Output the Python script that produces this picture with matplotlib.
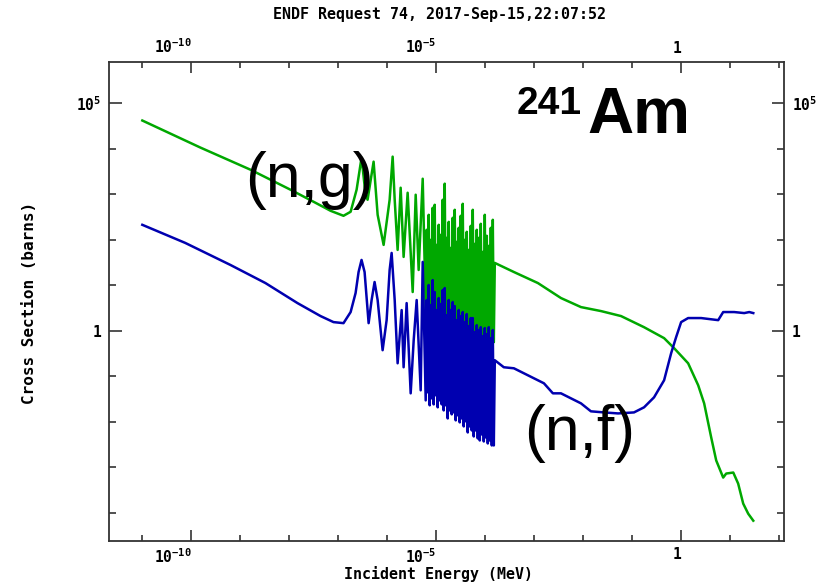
import matplotlib
matplotlib.use("Agg")
import numpy as np
import matplotlib.pyplot as plt

# (n,g) capture, below the resolved resonances (MeV, barns)
e_ng_low = [1.0e-11, 1.53e-10, 1.61e-9, 1.06e-8, 3.43e-8, 6.96e-8, 1.28e-7, 1.79e-7,
            2.37e-7, 2.99e-7, 3.61e-7, 3.97e-7, 5.27e-7, 6.37e-7, 8.44e-7, 1.12e-6,
            1.29e-6, 1.42e-6, 1.63e-6, 1.88e-6, 2.16e-6, 2.61e-6, 3.31e-6, 3.81e-6,
            4.38e-6, 5.30e-6]
xs_ng_low = [4.12e4, 1.05e4, 3430, 1245, 643, 429, 333, 408,
             1245, 6310, 966, 749, 5140, 350, 76.4, 749,
             6630, 749, 59.3, 1377, 41.6, 1068, 7.05, 966,
             21.5, 2170]

# (n,f) fission, same range
e_nf_low = [1.0e-11, 7.5e-11, 6.3e-10, 3.26e-9, 1.47e-8, 4.35e-8, 8.0e-8, 1.28e-7,
            1.79e-7, 2.26e-7, 2.60e-7, 2.99e-7, 3.45e-7, 4.17e-7, 4.80e-7, 5.52e-7,
            6.37e-7, 8.05e-7, 9.72e-7, 1.12e-6, 1.23e-6, 1.42e-6, 1.63e-6, 1.97e-6,
            2.16e-6, 2.49e-6, 3.01e-6, 3.47e-6, 3.99e-6, 4.82e-6, 5.30e-6]
xs_nf_low = [211, 84.6, 27.7, 11.1, 4.03, 2.09, 1.54, 1.46,
             2.56, 6.70, 19.4, 35.7, 19.4, 1.46, 4.70, 11.7,
             4.70, 0.372, 1.70, 21.5, 50.9, 4.70, 0.192, 2.83,
             0.157, 4.03, 0.0420, 0.618, 4.70, 0.0489, 32.3]

# dense resonance forest up to 150 eV, shared energy grid
e_res = [6.100e-6, 6.394e-6, 6.702e-6, 7.025e-6, 7.364e-6, 7.719e-6, 8.091e-6, 8.481e-6,
         8.890e-6, 9.318e-6, 9.767e-6, 1.0238e-5, 1.0732e-5, 1.1249e-5, 1.1791e-5, 1.2360e-5,
         1.2956e-5, 1.3580e-5, 1.4235e-5, 1.4921e-5, 1.5640e-5, 1.6394e-5, 1.7184e-5, 1.8013e-5,
         1.8881e-5, 1.9791e-5, 2.0745e-5, 2.1745e-5, 2.2793e-5, 2.3892e-5, 2.5044e-5, 2.6251e-5,
         2.7516e-5, 2.8843e-5, 3.0233e-5, 3.1690e-5, 3.3218e-5, 3.4819e-5, 3.6497e-5, 3.8257e-5,
         4.0101e-5, 4.2034e-5, 4.4060e-5, 4.6184e-5, 4.8410e-5, 5.0744e-5, 5.3190e-5, 5.5754e-5,
         5.8441e-5, 6.1258e-5, 6.4211e-5, 6.7306e-5, 7.0550e-5, 7.3951e-5, 7.7516e-5, 8.1252e-5,
         8.5169e-5, 8.9274e-5, 9.3577e-5, 9.8088e-5, 1.0282e-4, 1.0777e-4, 1.1297e-4, 1.1841e-4,
         1.2412e-4, 1.3010e-4, 1.3637e-4, 1.4295e-4, 1.4984e-4]
xs_ng_res = [2.83, 164, 3.84, 350, 2.56, 98.5, 3.47, 499, 2.31, 581, 2.98, 76.4,
             2.19, 211, 2.69, 127, 2.09, 749, 2.56, 1690, 1.89, 109, 2.31, 245,
             1.70, 65.6, 1.98, 301, 1.54, 451, 1.79, 89.0, 1.26, 181, 1.46, 333,
             1.14, 611, 1.32, 98.5, 0.975, 148, 1.14, 59.3, 0.84, 200, 0.975, 451,
             0.757, 80.4, 0.88, 164, 0.684, 109, 0.618, 222, 0.757, 53.6, 0.587, 350,
             0.650, 121, 0.558, 72.6, 0.618, 181, 0.558, 272, 0.558]
xs_nf_res = [0.0294, 4.70, 0.0442, 10.05, 0.0229, 3.65, 0.0326, 12.9, 0.0240, 7.05,
             0.0380, 2.83, 0.0207, 5.20, 0.0294, 3.84, 0.0240, 7.80, 0.0177, 8.63,
             0.0229, 2.19, 0.0118, 4.70, 0.0177, 2.83, 0.0145, 4.25, 0.0160, 3.47,
             0.0107, 1.70, 0.0138, 2.83, 0.00966, 2.09, 0.0118, 2.56, 0.00788, 1.54,
             0.0102, 2.31, 0.00581, 1.26, 0.00788, 1.89, 0.00643, 1.89, 0.00474, 0.927,
             0.00643, 1.32, 0.00429, 1.03, 0.00387, 1.19, 0.00525, 0.757, 0.00368, 1.14,
             0.00451, 0.84, 0.00333, 1.19, 0.00387, 0.684, 0.00301, 1.03, 0.00301]

# smooth part above the resonances
e_ng_high = [1.57e-4, 3.85e-4, 1.19e-3, 3.52e-3, 9.02e-3, 2.31e-2, 5.93e-2, 0.175,
             0.449, 0.719, 1.39, 2.23, 2.95, 4.11, 5.20, 7.22,
             8.32, 11.6, 14.6, 18.5, 23.4, 29.7]
xs_ng_high = [30.7, 19.4, 11.1, 5.20, 3.29, 2.69, 2.09, 1.19,
              0.684, 0.412, 0.192, 0.0631, 0.0253, 0.00451, 0.00141, 0.000593,
              0.000727, 0.000765, 0.000437, 0.000159, 9.55e-5, 6.7e-5]
e_nf_high = [1.57e-4, 2.40e-4, 3.85e-4, 6.15e-4, 9.86e-4, 1.58e-3, 2.41e-3, 3.52e-3,
             5.63e-3, 9.02e-3, 1.44e-2, 2.66e-2, 5.15e-2, 0.109, 0.175, 0.280,
             0.449, 0.625, 0.790, 1.0, 1.39, 2.56, 5.71, 7.22,
             12.1, 19.4, 24.6, 29.7]
xs_nf_high = [0.224, 0.157, 0.149, 0.116, 0.0899, 0.0698, 0.0420, 0.0420,
              0.0326, 0.0253, 0.0169, 0.0160, 0.0152, 0.0160, 0.0207, 0.0343,
              0.0813, 0.319, 0.72, 1.54, 1.89, 1.89, 1.70, 2.56,
              2.56, 2.43, 2.56, 2.43]

x_major = [1e-10, 1e-5, 1]
x_major_labels = [r"$10^{-10}$", r"$10^{-5}$", "1"]
y_major = [1e5, 1]
y_major_labels = [r"$10^{5}$", "1"]

plt.rcParams["mathtext.fontset"] = "custom"
plt.rcParams["mathtext.rm"] = "DejaVu Sans Mono:bold"
plt.rcParams["mathtext.it"] = "DejaVu Sans Mono:bold"
plt.rcParams["mathtext.bf"] = "DejaVu Sans Mono:bold"
mono = {"family": "DejaVu Sans Mono", "weight": "bold"}

fig = plt.figure(figsize=(8.36, 5.84), dpi=100)
ax = fig.add_axes([109 / 836, 1 - 541 / 584, 675 / 836, 479 / 584])

e_ng = e_ng_low + e_res + e_ng_high
xs_ng = xs_ng_low + xs_ng_res + xs_ng_high
e_nf = e_nf_low + e_res + e_nf_high
xs_nf = xs_nf_low + xs_nf_res + xs_nf_high

ax.plot(e_ng, xs_ng, color="#00a800", lw=1.8)
ax.plot(e_nf, xs_nf, color="#0000b0", lw=1.8)

ax.set_xscale("log")
ax.set_yscale("log")
ax.set_xlim(10 ** -11.68, 10 ** 2.1)
ax.set_ylim(10 ** -4.62, 10 ** 5.9)

ax.set_xticks(x_major, x_major_labels)
ax.set_xticks([10.0 ** k for k in range(-11, 3) if k not in (-10, -5, 0)], minor=True)
ax.set_yticks(y_major, y_major_labels)
ax.set_yticks([10.0 ** k for k in range(-4, 6) if k not in (0, 5)], minor=True)
ax.xaxis.set_minor_formatter(matplotlib.ticker.NullFormatter())
ax.yaxis.set_minor_formatter(matplotlib.ticker.NullFormatter())

ax.tick_params(which="both", direction="in", top=True, right=True,
               labeltop=True, labelright=True, color="#333333", width=1.2,
               labelsize=10.5)
ax.tick_params(axis="x", which="major", length=8, pad=4.5)
ax.tick_params(axis="x", which="minor", length=4.5)
ax.tick_params(axis="y", which="major", length=9, pad=5.5)
ax.tick_params(axis="y", which="minor", length=5)
for t in ax.xaxis.get_major_ticks():
    t.label1.set_horizontalalignment("right")
    t.label2.set_horizontalalignment("right")
for t in ax.xaxis.get_major_ticks() + ax.yaxis.get_major_ticks():
    for lab in (t.label1, t.label2):
        lab.set_fontfamily("DejaVu Sans Mono")
        lab.set_fontweight("bold")
for sp in ax.spines.values():
    sp.set_color("#333333")
    sp.set_linewidth(1.3)

fig.text(439 / 836, 1 - 14 / 584, "ENDF Request 74, 2017-Sep-15,22:07:52",
         ha="center", va="center", fontsize=10.8, **mono)
fig.text(438 / 836, 1 - 574 / 584, "Incident Energy (MeV)",
         ha="center", va="center", fontsize=10.8, **mono)
fig.text(30 / 836, 1 - 303 / 584, "Cross Section (barns)", rotation=90,
         ha="center", va="center", fontsize=11.5, **mono)

sans = "Liberation Sans"
fig.text(245 / 836, 1 - 197 / 584, "(n,g)", family=sans, fontsize=45,
         va="baseline", ha="left", zorder=5)
fig.text(524 / 836, 1 - 450 / 584, "(n,f)", family=sans, fontsize=45,
         va="baseline", ha="left", zorder=5)
fig.text(517 / 836, 1 - 114 / 584, "241", family=sans, fontsize=28,
         weight="bold", va="baseline", ha="left", zorder=5)
fig.text(587 / 836, 1 - 133 / 584, "Am", family=sans, fontsize=46,
         weight="bold", va="baseline", ha="left", zorder=5)

fig.savefig("out.png", dpi=100)
